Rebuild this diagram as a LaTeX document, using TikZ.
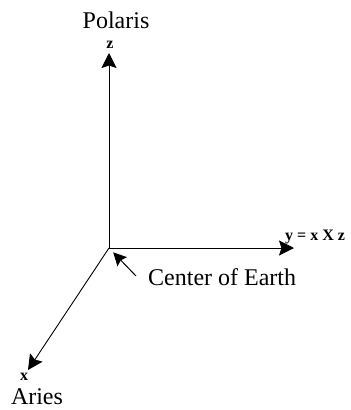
\documentclass[tikz,border=0pt]{standalone}
\usepackage{fontspec}
\setmainfont{Liberation Serif}
\usetikzlibrary{arrows.meta,positioning}

\tikzset{
  axis/.style={line width=0.9pt, -{Stealth[length=15pt,width=15pt,inset=2.5pt]}},
  pointer/.style={line width=1pt, -{Stealth[length=13pt,width=13pt,inset=2pt]}},
  bigtext/.style={font=\fontsize{24}{28}\selectfont, inner sep=0pt},
  axislabel/.style={font=\fontsize{16}{18}\selectfont\bfseries, inner sep=0pt}
}

\begin{document}
\begin{tikzpicture}[x=1pt, y=-1pt]
    \useasboundingbox (0,0) rectangle (351,410);

    % === Origin and axis tips ===
    \coordinate (O) at (109,248);
    \coordinate (ztip) at (109,53);
    \coordinate (ytip) at (294,248);
    \coordinate (xtip) at (28,370);

    % === Axes ===
    \draw[axis] (O) -- (ztip);
    \draw[axis] (O) -- (ytip);
    \draw[axis] (O) -- (xtip);

    % === Axis labels ===
    \node[axislabel, anchor=base] (zlab) at (110,48) {z};
    \node[bigtext, anchor=base] (polaris) at (116,28) {Polaris};
    \node[axislabel, anchor=base west] (ylab) at (285,240) {y = x X z};
    \node[axislabel, anchor=base] (xlab) at (24,380) {x};
    \node[bigtext, anchor=base] (aries) at (37,404) {Aries};

    % === Origin annotation ===
    \node[bigtext, anchor=base west] (cen) at (148,285) {Center of Earth};
    \coordinate (centail) at (136,276);
    \draw[pointer, shorten >=6pt] (centail) -- (O);
\end{tikzpicture}
\end{document}
